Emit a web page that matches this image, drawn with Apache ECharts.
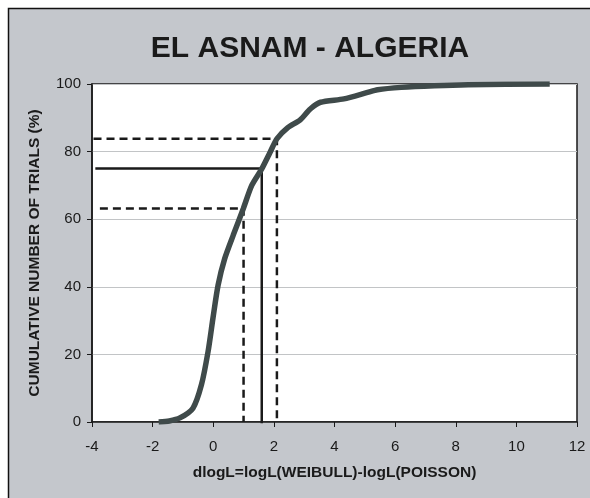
<!DOCTYPE html>
<html><head><meta charset="utf-8">
<script src="https://cdn.jsdelivr.net/npm/echarts@6/dist/echarts.min.js"></script>
<style>html,body{margin:0;padding:0;background:#fff}#c{width:590px;height:498px}</style>
</head><body><div id="c"></div>
<script>
const titleText = 'EL ASNAM - ALGERIA';
const xName = 'dlogL=logL(WEIBULL)-logL(POISSON)';
const yName = 'CUMULATIVE NUMBER OF TRIALS (%)';
const curveX = [-1.8,-1.45,-1.1,-0.67,-0.39,-0.17,-0.01,0.16,0.38,0.66,0.99,1.27,1.6,1.88,2.1,2.45,2.87,3.2,3.54,4.31,5.09,5.42,6.2,7.3,8.41,11.1];
const curveY = [0,0.3,1.2,4.1,11,20.9,30.7,40.5,48.4,55.3,63.1,70,74.9,79.9,83.8,87,89.4,92.6,94.6,95.6,97.5,98.3,99,99.5,99.8,100];
const solidLine = [[-3.89,75],[1.6,75],[1.6,-0.6]];
const dashUpper = [[-3.95,83.8],[2.1,83.8],[2.1,0]];
const dashLower = [[-3.74,63.2],[1.0,63.2],[1.0,0]];
const xTicks = {min:-4,max:12,interval:2};
const yTicks = {min:0,max:100,interval:20};

const chart = echarts.init(document.getElementById('c'));
const font = '"Liberation Sans", Arial, sans-serif';
chart.setOption({
  backgroundColor:'#ffffff',
  animation:false,
  graphic:[{type:'rect',z:-10,shape:{x:8.5,y:8.5,width:620,height:620},style:{fill:'#c4c7cc',stroke:'#111',lineWidth:1.5}}],
  title:{text:titleText,left:305,top:29,textAlign:'center',textStyle:{fontFamily:font,fontSize:30,fontWeight:'bold',color:'#1a1a1a'}},
  grid:{left:92,right:13,top:84,bottom:76,show:true,backgroundColor:'#ffffff',borderColor:'#1a1a1a',borderWidth:1.5},
  xAxis:{type:'value',min:xTicks.min,max:xTicks.max,interval:xTicks.interval,
    name:xName,nameLocation:'middle',nameGap:43,
    nameTextStyle:{fontFamily:font,fontSize:15.5,fontWeight:'bold',color:'#1a1a1a'},
    axisLine:{show:true,onZero:false,lineStyle:{color:'#1a1a1a',width:1.5}},
    axisTick:{show:true,length:5,lineStyle:{color:'#1a1a1a'}},
    axisLabel:{fontFamily:font,fontSize:15,color:'#1a1a1a',margin:17},
    splitLine:{show:false}},
  yAxis:{type:'value',min:yTicks.min,max:yTicks.max,interval:yTicks.interval,
    name:yName,nameLocation:'middle',nameGap:49,nameRotate:90,
    nameTextStyle:{fontFamily:font,fontSize:15.5,fontWeight:'bold',color:'#1a1a1a'},
    axisLine:{show:true,onZero:false,lineStyle:{color:'#1a1a1a',width:1.5}},
    axisTick:{show:true,length:5,lineStyle:{color:'#1a1a1a'}},
    axisLabel:{fontFamily:font,fontSize:15,color:'#1a1a1a',margin:11},
    splitLine:{show:true,lineStyle:{color:'#c2c4c6',width:1}}},
  series:[
    {type:'line',data:solidLine,symbol:'none',z:3,lineStyle:{color:'#1a1a1a',width:2.5}},
    {type:'line',data:dashUpper,symbol:'none',z:3,lineStyle:{color:'#1a1a1a',width:2.5,type:[8,5]}},
    {type:'line',data:dashLower,symbol:'none',z:3,lineStyle:{color:'#1a1a1a',width:2.5,type:[8,5]}},
    {type:'line',data:curveX.map((x,i)=>[x,curveY[i]]),symbol:'none',smooth:0.25,z:4,lineStyle:{color:'#3f4a4a',width:5.5}}
  ]
});
</script></body></html>
